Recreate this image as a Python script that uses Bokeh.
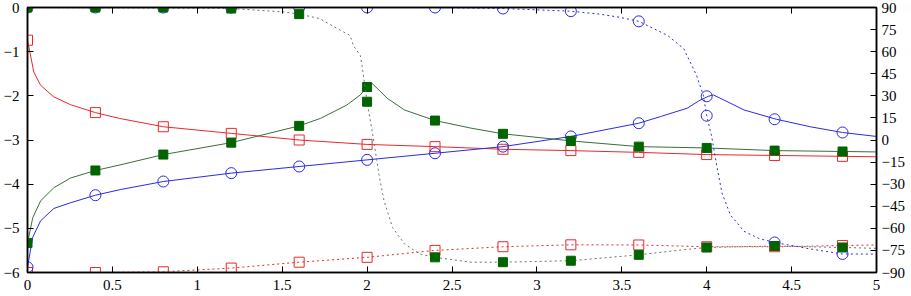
from bokeh.plotting import figure
from bokeh.models import Range1d, LinearAxis, FixedTicker
from bokeh.embed import file_html
from bokeh.resources import INLINE

# ---------------- data ----------------
x_ticks = [0, 0.5, 1, 1.5, 2, 2.5, 3, 3.5, 4, 4.5, 5]
x_tick_labels = ["0", "0.5", "1", "1.5", "2", "2.5", "3", "3.5", "4", "4.5", "5"]
y_ticks = [0, -1, -2, -3, -4, -5, -6]
y_tick_labels = ["0", "\u22121", "\u22122", "\u22123", "\u22124", "\u22125", "\u22126"]
y2_ticks = [90, 75, 60, 45, 30, 15, 0, -15, -30, -45, -60, -75, -90]
y2_tick_labels = ["90", "75", "60", "45", "30", "15", "0", "\u221215", "\u221230",
                  "\u221245", "\u221260", "\u221275", "\u221290"]

# marker samples
x_marks = [0, 0.4, 0.8, 1.2, 1.6, 2.0, 2.4, 2.8, 3.2, 3.6, 4.0, 4.4, 4.8]
red_mag_marks = [-0.74, -2.38, -2.70, -2.85, -3.00, -3.10, -3.15, -3.21, -3.24, -3.28, -3.33, -3.35, -3.37]
green_mag_marks = [-5.33, -3.69, -3.33, -3.06, -2.68, -1.80, -2.56, -2.86, -3.02, -3.15, -3.18, -3.24, -3.26]
blue_mag_marks = [-5.88, -4.25, -3.94, -3.75, -3.60, -3.45, -3.30, -3.15, -2.92, -2.62, -2.01, -2.53, -2.83]
red_phase_marks = [-90, -90, -89.5, -87, -83, -79.7, -75, -72.5, -71.2, -71.3, -72.5, -72.5, -71.7]
green_phase_marks = [90, 90, 90, 89.3, 85.5, 26, -79.7, -83, -82, -78, -73, -72, -73]
blue_phase_marks = [90, 90, 90, 90, 90, 90, 90, 89.3, 87.5, 80.6, 16.5, -69.6, -77.4]

# curves (magnitude, left axis)
red_mag_x = [0, 0.014, 0.037, 0.077, 0.153, 0.253, 0.4, 0.54, 0.8, 1.2, 1.6, 2.0, 2.4, 2.8,
             3.2, 3.6, 4.0, 4.4, 4.8, 5.0]
red_mag_y = [-0.74, -1.01, -1.46, -1.76, -2.02, -2.20, -2.38, -2.51, -2.70, -2.85, -3.00, -3.10,
             -3.15, -3.21, -3.24, -3.28, -3.33, -3.35, -3.37, -3.38]
green_mag_x = [0, 0.031, 0.077, 0.155, 0.254, 0.4, 0.55, 0.8, 1.2, 1.6, 1.726, 1.88, 1.96, 2.0,
               2.03, 2.12, 2.22, 2.4, 2.61, 2.8, 3.2, 3.6, 4.0, 4.4, 4.8, 5.0]
green_mag_y = [-5.33, -4.76, -4.38, -4.08, -3.86, -3.69, -3.56, -3.33, -3.06, -2.68, -2.51, -2.21,
               -1.98, -1.80, -1.72, -2.06, -2.32, -2.56, -2.73, -2.86, -3.02, -3.15, -3.18, -3.24,
               -3.26, -3.27]
blue_mag_x = [0, 0.031, 0.077, 0.155, 0.254, 0.4, 0.55, 0.8, 1.2, 1.6, 2.0, 2.4, 2.8, 3.2, 3.6,
              3.728, 3.885, 3.96, 4.01, 4.04, 4.12, 4.22, 4.41, 4.61, 4.8, 5.0]
blue_mag_y = [-5.88, -5.20, -4.83, -4.55, -4.42, -4.25, -4.12, -3.94, -3.75, -3.60, -3.45, -3.30,
              -3.15, -2.92, -2.62, -2.47, -2.28, -2.10, -2.01, -1.98, -2.13, -2.32, -2.53, -2.70,
              -2.83, -2.92]

# curves (phase, right axis, degrees)
red_phase_x = [0, 0.4, 0.8, 1.2, 1.6, 2.0, 2.4, 2.8, 3.2, 3.6, 4.0, 4.4, 4.8, 5.0]
red_phase_y = [-90, -90, -89.5, -87, -83, -79.7, -75, -72.5, -71.2, -71.3, -72.5, -72.5, -71.7, -71.3]
green_phase_x = [0, 1.2, 1.51, 1.6, 1.72, 1.82, 1.90, 1.92, 1.96, 1.97, 2.0, 2.04, 2.07, 2.10,
                 2.15, 2.22, 2.31, 2.4, 2.61, 2.8, 3.2, 3.6, 3.85, 4.0, 4.4, 4.8, 5.0]
green_phase_y = [90, 89.3, 87, 85.5, 82.5, 76, 71, 64, 57.4, 50.7, 26, -1, -23.5, -41.5,
                 -59.5, -70.6, -77.4, -79.7, -83, -83, -82, -78, -74.7, -73, -72, -73, -73.6]
blue_phase_x = [0, 2.4, 2.8, 3.2, 3.37, 3.49, 3.6, 3.77, 3.865, 3.94, 3.98, 4.0, 4.03, 4.06,
                4.09, 4.14, 4.22, 4.31, 4.4, 4.61, 4.8, 5.0]
blue_phase_y = [90, 90, 89.3, 87.5, 85.5, 83.3, 80.6, 71, 62, 44, 30.5, 16.5, 2, -18,
                -36, -51, -62, -67, -69.6, -74, -77.4, -77.5]

RED = "#e8282c"
GREEN = "#006400"
GREEN_LINE = "#3a6e3a"
GREEN_DASH = "#5f7a5f"
BLUE = "#2a2ae6"
FONT = "Liberation Serif"

p = figure(width=911, height=296, output_backend="svg", toolbar_location=None,
           x_range=Range1d(0, 5), y_range=Range1d(-6, 0),
           min_border_left=27, min_border_right=35, min_border_top=7, min_border_bottom=24)
p.extra_y_ranges = {"phase": Range1d(-90, 90)}
p.grid.visible = False
p.outline_line_color = "black"
p.outline_line_width = 1.5
p.background_fill_color = "white"
p.border_fill_color = "white"


def style_axis(ax, standoff):
    ax.axis_line_color = "black"
    ax.axis_line_width = 1.5
    ax.major_tick_in = 6
    ax.major_tick_out = 0
    ax.major_tick_line_color = "black"
    ax.major_tick_line_width = 1
    ax.minor_tick_in = 0
    ax.minor_tick_out = 0
    ax.major_label_text_font = FONT
    ax.major_label_text_font_size = "15px"
    ax.major_label_text_color = "black"
    ax.major_label_standoff = standoff


xa = p.xaxis[0]
xa.ticker = FixedTicker(ticks=x_ticks)
xa.major_label_overrides = {t: l for t, l in zip(x_ticks, x_tick_labels)}
style_axis(xa, 7)

ya = p.yaxis[0]
ya.ticker = FixedTicker(ticks=y_ticks)
ya.major_label_overrides = {t: l for t, l in zip(y_ticks, y_tick_labels)}
style_axis(ya, 8)

ra = LinearAxis(y_range_name="phase", ticker=FixedTicker(ticks=y2_ticks))
ra.major_label_overrides = {t: l for t, l in zip(y2_ticks, y2_tick_labels)}
style_axis(ra, 5)
p.add_layout(ra, "right")

ta = LinearAxis(ticker=FixedTicker(ticks=x_ticks))
style_axis(ta, 0)
ta.major_label_overrides = {t: "" for t in x_ticks}
ta.major_label_text_font_size = "0px"
p.add_layout(ta, "above")

# red
p.line(red_mag_x, red_mag_y, line_color=RED, line_width=1)
p.scatter(x_marks, red_mag_marks, marker="square", size=10, fill_color=None, line_color=RED, line_width=1)
p.line(red_phase_x, red_phase_y, line_color=RED, line_width=1, line_dash="2 3", y_range_name="phase")
p.scatter(x_marks, red_phase_marks, marker="square", size=10, fill_color=None, line_color=RED,
          line_width=1, y_range_name="phase")
# blue
p.line(blue_mag_x, blue_mag_y, line_color=BLUE, line_width=1)
p.scatter(x_marks, blue_mag_marks, marker="circle", size=11, fill_color=None, line_color=BLUE, line_width=1)
p.line(blue_phase_x, blue_phase_y, line_color=BLUE, line_width=1, line_dash="2 3", y_range_name="phase")
p.scatter(x_marks, blue_phase_marks, marker="circle", size=11, fill_color=None, line_color=BLUE,
          line_width=1, y_range_name="phase")
# green
p.line(green_mag_x, green_mag_y, line_color=GREEN_LINE, line_width=1)
p.scatter(x_marks, green_mag_marks, marker="square", size=9, fill_color=GREEN, line_color=GREEN, line_width=1)
p.line(green_phase_x, green_phase_y, line_color=GREEN_DASH, line_width=1, line_dash="2 3", y_range_name="phase")
p.scatter(x_marks, green_phase_marks, marker="square", size=9, fill_color=GREEN, line_color=GREEN,
          line_width=1, y_range_name="phase")

open("out.html", "w").write(file_html(p, INLINE))
